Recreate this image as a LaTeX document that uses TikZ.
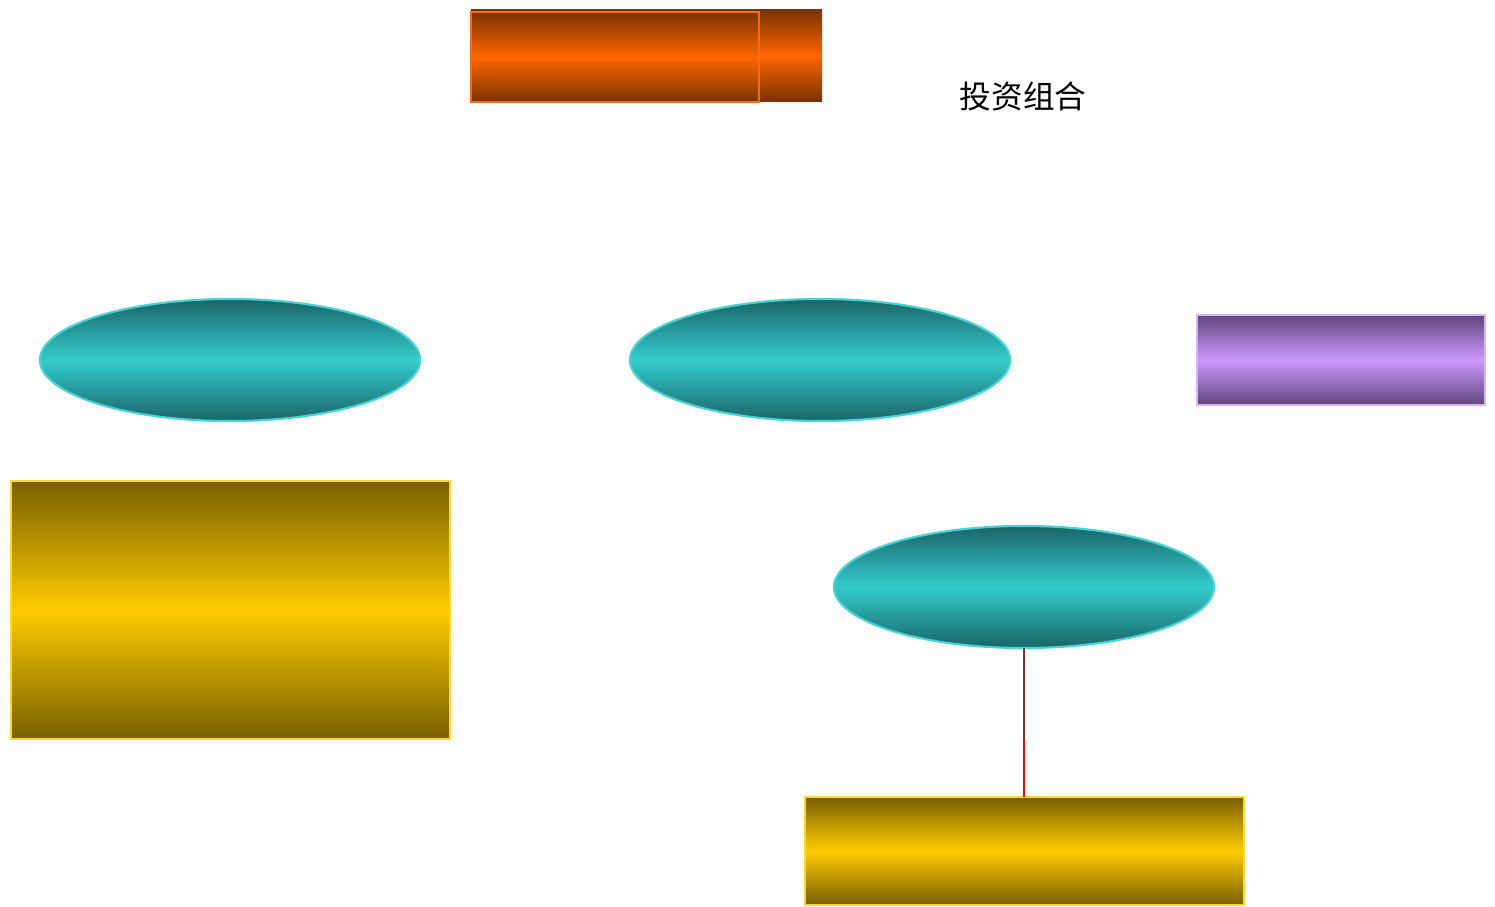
\documentclass[tikz,border=0pt]{standalone}
\usepackage{fontspec}
\usepackage{xcolor}
\usetikzlibrary{shapes.geometric}
\newfontfamily\cjk{Noto Sans CJK SC}
\definecolor{rustdark}{RGB}{122,51,0}
\definecolor{rustlight}{RGB}{255,102,0}
\definecolor{rustedge}{RGB}{240,110,20}
\definecolor{tealdark}{RGB}{26,100,104}
\definecolor{teallight}{RGB}{51,204,204}
\definecolor{tealedge}{RGB}{70,212,212}
\definecolor{golddark}{RGB}{120,96,0}
\definecolor{goldlight}{RGB}{255,204,0}
\definecolor{goldedge}{RGB}{250,215,60}
\definecolor{lilacdark}{RGB}{95,70,125}
\definecolor{lilaclight}{RGB}{204,153,255}
\definecolor{lilacedge}{RGB}{215,180,245}
\definecolor{linkdark}{RGB}{150,40,40}
\definecolor{linkred}{RGB}{255,0,0}

\begin{document}
\begin{tikzpicture}[x=0.01cm, y=-0.01cm,
    every node/.style={inner sep=0pt, outer sep=0pt},
    rustbar/.style={rectangle, shade, top color=rustdark, bottom color=rustdark, middle color=rustlight},
    tealoval/.style={ellipse, shade, top color=tealdark, bottom color=tealdark, middle color=teallight,
        draw=tealedge, line width=0.6pt, minimum width=3.8cm, minimum height=1.22cm},
    goldbox/.style={rectangle, shade, top color=golddark, bottom color=golddark, middle color=goldlight,
        draw=goldedge, line width=0.6pt},
    lilacbox/.style={rectangle, shade, top color=lilacdark, bottom color=lilacdark, middle color=lilaclight,
        draw=lilacedge, line width=0.6pt}]
    \useasboundingbox (0,0) rectangle (1495,907);

    % top bar, two layers
    \node[rustbar, minimum width=3.51cm, minimum height=0.91cm] (barback) at (646.5,55.5) {};
    \node[rustbar, draw=rustedge, line width=0.6pt, minimum width=2.88cm, minimum height=0.90cm] (barfront) at (615,57) {};
    \node[font=\cjk\fontsize{9pt}{11pt}\selectfont] (title) at (1023,96) {投资组合};

    % middle row
    \node[tealoval] (ovalleft) at (230,360) {};
    \node[tealoval] (ovalmid) at (820,360) {};
    \node[lilacbox, minimum width=2.88cm, minimum height=0.90cm] (lilac) at (1341,360) {};

    % lower row
    \node[goldbox, minimum width=4.39cm, minimum height=2.58cm] (goldbig) at (230.5,610) {};
    \node[tealoval] (ovallow) at (1024,587) {};
    \node[goldbox, minimum width=4.39cm, minimum height=1.08cm] (goldlow) at (1024.5,851) {};

    % link
    \coordinate (linkbend) at (ovallow.south |- 0,740);
    \draw[linkdark, line width=0.4pt] (ovallow.south) -- (linkbend);
    \draw[linkred, line width=0.7pt] (linkbend) -- (linkbend |- goldlow.north);
\end{tikzpicture}
\end{document}
